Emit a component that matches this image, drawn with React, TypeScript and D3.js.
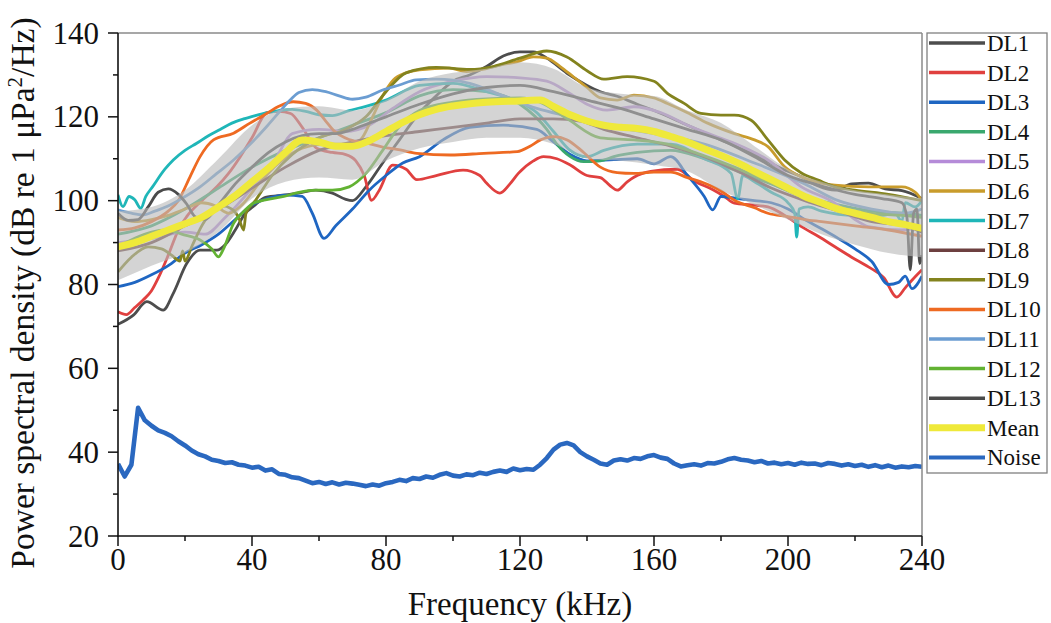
import React from "react";
import * as d3 from "d3";

type P = [number, number];

// ---------- data (frequency kHz, PSD dB) ----------
const DL1: P[] = [[0,70.5],[4.6,72.7],[8.6,75.9],[13.5,73.9],[16.5,77.9],[20.5,85],[24.5,88.2],[29.5,88.2],[32,89.5],[35,93],[38,97],[40.4,98.6],[44,100.8],[50,101.4],[55,102],[59,102.5],[64,101.8],[68,100.3],[70,100],[74,103.3],[79,109],[84,114.5],[89,120],[95,125],[100,128.5],[105,130],[110,132],[115,134.5],[120,135.5],[124,135.5],[128,134],[134,130.4],[140,127.5],[144,126],[149,124.9],[155,123],[160,121.5],[170,118],[180,114.5],[190,111],[199,107.3],[204,105.7],[209,103.5],[214,102.5],[219,104],[224,104.2],[229,102.8],[234,102.4],[240,100.5]];
const DL2: P[] = [[0,73.5],[2.5,72.8],[5,74.5],[7.5,76.3],[10,78.5],[12,81.5],[15,87],[18,93],[20.5,96.2],[25,100],[29.5,103.3],[33,106.5],[36.5,110.5],[40,115],[44.5,121],[48,121.3],[51.5,120.8],[55,117.5],[59.3,112.5],[64,111.5],[68,111],[71,109.5],[73.5,106],[75.7,100.1],[78,102.5],[82,108.5],[86,107.5],[89.2,105],[95,106],[103,107.3],[108,106],[110,104.2],[114,101.8],[117,104],[119.5,106.5],[124,109.5],[127,110.5],[131,110],[135,108.5],[140,106],[144,105.5],[147,103.5],[149,102.5],[152,104.5],[154,105.6],[159,107],[167,107.5],[172,104.7],[177.6,102.6],[181,101],[184,99.4],[189,99],[194,98.5],[199,96.5],[204,93.8],[209,91.5],[214,89],[219,86.5],[224,84.2],[228.6,81.6],[232.5,77],[235,79.2],[237,81],[240,83.5]];
const DL3: P[] = [[0,79.5],[5,80.5],[10,82.3],[15,84.5],[20,87.5],[25,89.5],[30,92],[35,95.5],[40,99],[45,100.6],[50,101.3],[55,101],[58,97],[61.5,91],[65,94],[70,98],[75,102.5],[80,106],[85,109],[90,110.5],[97,114.5],[105,117.5],[115,118],[125,117],[130,114],[135,111],[140,109.5],[148,109.8],[155,110],[160,108.8],[165,110.5],[170,106],[175,101],[177.5,97.8],[180,101],[185,100.5],[190,100],[195,99.5],[200,98],[205,95.5],[210,93.3],[215,91],[220,88.5],[225,85.5],[230,80],[233,80.5],[235,82],[237,79],[240,82]];
const DL4: P[] = [[0,92],[10,94],[20,98],[30,103],[40,108],[50,112],[60,115],[70,118],[80,121],[90,125],[100,126.5],[110,126],[120,123],[128,117],[131,113.5],[135,110.5],[139,109.3],[144,109.5],[148,110.5],[155,111.5],[165,112],[175,110],[185,107],[195,104],[205,101],[215,99],[225,97.5],[235,97],[240,96.5]];
const DL5: P[] = [[0,90],[10,91],[20,92.5],[26,92],[32,96],[40,103],[47,110],[52,116],[60,117],[68,116.5],[75,118],[82,122],[90,126],[100,128.5],[110,129.6],[120,129.3],[128,128.5],[135,125.5],[140,123],[146,121.6],[154,122.4],[162,121],[170,118],[178,115.5],[184,113.7],[194,109.7],[204,103.3],[214,99.4],[220,95.5],[224,93.8],[234,93],[240,93.8]];
const DL6: P[] = [[0,96],[5,95],[10,95.5],[15,96.5],[20,98],[25,99.5],[29,98.8],[33,97],[37,99],[42,104],[48,109],[55,112.5],[62,113.5],[68,113.5],[72.3,114.5],[76,120],[79,125],[82.2,128.8],[86,130.5],[90,131.2],[99,131.6],[104,130.8],[110,131.5],[115,132.5],[119,133.1],[124,134.3],[128,134],[132,132],[136,129.5],[140,127],[144,124.5],[149,124],[154,125.2],[160,124.5],[164,123.2],[170,121],[176,118.5],[184,116],[190,114.5],[194,112.9],[199,108.1],[204,105.7],[210,104.2],[214,103.7],[224,103.3],[234,103.3],[238,102],[240,100]];
const DL7: P[] = [[0,101.4],[1.5,98.6],[3.3,101],[5,100.2],[6.8,98.2],[8.3,101],[10.3,103.3],[14,107.5],[16.5,109.7],[20,112],[23.5,113.7],[27,115.5],[30.5,117],[34,118.5],[37.5,119.5],[41,120.3],[44.5,121],[48,121.5],[52,121.8],[56,121.3],[60,120.5],[64,120.3],[69,121.5],[74,122.5],[80,124],[90,127.5],[100,128],[110,126],[120,123.5],[125,121],[130,116.5],[135,112],[140,110.5],[145,112],[155,113.5],[165,113.5],[175,110],[183,106.5],[185,100.5],[186.5,106],[190,104.5],[195,102],[200,99.5],[202,97],[202.6,91.3],[203.3,98],[206,98.5],[210,97.5],[220,96.5],[228,96.5],[232,97],[234,95],[235,99.5],[238,98.5],[240,100]];
const DL8: P[] = [[0,88],[10,90],[20,94],[30,98],[40,103],[50,108],[60,112],[70,114],[80,115.5],[90,116.5],[100,117.5],[110,118.5],[120,119.5],[130,119.5],[138,119],[145,117],[155,115],[165,113],[175,110.5],[185,107],[195,103],[205,100],[215,97.5],[225,95],[235,94],[240,92.5]];
const DL9: P[] = [[0,83],[4,86.5],[9,89],[13,88.5],[16,87],[18.5,85.6],[19.3,88],[20,85.6],[22,89],[25,94],[28,97.5],[31,98.8],[34,98],[36,96],[37.5,93],[38.2,97],[41,100],[46,106],[52,111],[60,115],[68,117],[74,120],[80,126],[86,130.5],[95,131.8],[105,131.3],[112,132],[120,134],[128,135.7],[134,134.3],[140,131],[145,129],[152,129.6],[160,128.5],[164,125.6],[169,123.2],[174,120.8],[180,120.4],[184,120.4],[189,119.2],[194,114.5],[199,109.7],[204,106.6],[209,104.9],[214,103.3],[220,102.5],[230,101.5],[240,100]];
const DL10: P[] = [[0,93],[5,93.5],[10,95],[15,97.5],[18,100],[21.5,105.7],[24.5,110.5],[28.5,114.5],[34.5,116.1],[39.4,118.5],[44.4,120.8],[48,122.5],[52.3,123.6],[56,123.2],[59.3,121.6],[62,119],[64.3,116.8],[69.3,114.5],[74.3,113.7],[79,112.8],[84.2,112.1],[89.2,111.3],[99.2,110.9],[109.2,111.3],[119.2,111.7],[123,113],[126.1,114.5],[130.1,115.3],[134.1,114.5],[139,111.5],[144,108],[149,106.7],[154,106.5],[160,106.8],[165,106.8],[170,105.5],[174,104.5],[180,102.3],[184,100.1],[190,98.3],[194,97],[200,96.2],[205,95.5],[210,95],[220,94],[230,93],[240,91.5]];
const DL11: P[] = [[0,97.8],[4,97],[7.6,96.6],[11,97.5],[14.6,98.6],[19,100.5],[24.5,103.3],[29.5,106.5],[34.5,109.7],[39.5,113.5],[44.4,117.7],[48,121],[51.4,124],[54,125.8],[58,126.5],[62,126],[66,125],[70,124.2],[74,124.7],[79,126.4],[84,127.6],[89,128.8],[95,129],[105,128],[115,125],[125,122],[135,120],[145,118],[160,116],[175,113.5],[190,109],[205,104],[215,100],[225,98],[235,97],[240,98]];
const DL12: P[] = [[0,89],[5,91],[10,92.5],[14.6,93],[19,92],[24.5,90.6],[28,88.5],[30,86.6],[31.5,88.5],[34.5,94.6],[37,97],[40.4,99.4],[44,100.2],[49.5,101],[54,102],[59.3,102.5],[64,102.5],[69,103.3],[74,106.5],[79,112],[84,117.7],[90,121.5],[100,123.5],[110,124.3],[120,124.5],[126,123.5],[134,119.6],[144,115],[154,114.5],[164,113.5],[174,111],[184,108],[194,104.5],[204,101],[214,98.5],[224,97],[234,96.5],[240,96]];
const DL13: P[] = [[0,97],[3,95.3],[6,95.5],[9,98.5],[12,102],[15,102.8],[18,101.5],[20.5,99.2],[23,96.2],[26,95.5],[30,99],[35,104],[40,108],[45,111.5],[50,114],[55,115.5],[60,116],[65,116],[70,117],[75,118.5],[80,120],[90,123],[100,125.5],[110,127],[120,127.5],[130,126],[140,124],[150,122],[160,119.5],[170,117],[180,114.5],[190,110.5],[200,106],[210,103.5],[220,101.5],[228,100.5],[234,99.5],[235.5,96],[236.5,83.5],[237.5,97],[238.5,98],[239.3,85],[240,87]];

const MEAN: P[] = [[0,89],[5,90],[10,91.5],[15,93],[20,94.5],[25,96],[30,98.5],[35,101.2],[40,104.5],[45,107.8],[50,111.5],[55,114.5],[60,114],[65,113],[70,113],[75,114.3],[80,116.5],[85,118.7],[90,120.5],[95,121.8],[100,122.6],[110,123.5],[120,123.8],[126,124],[130,122.5],[135,120.5],[140,119],[145,118],[150,117.5],[155,117.2],[160,116.5],[165,115.3],[170,114],[175,112.4],[180,110.8],[185,109],[190,107],[195,105],[200,103],[205,101],[210,99.5],[215,98],[220,97],[225,96],[230,95],[235,94.3],[240,93.4]];

const BAND_F = [0,10,20,30,40,50,60,70,80,90,100,110,120,130,140,150,160,170,180,190,200,210,220,230,240];
const BAND_LO = [81,84.5,87.5,92.5,100.5,104.5,105.5,105,109.5,112.5,114,115,115,113.5,110,109.5,108.5,107,102.5,99,95.5,92,89.5,87.5,86.5];
const BAND_HI = [97.5,98.5,102.5,110,118,122,122.5,121.5,124,128.5,130.5,131.5,133,131.5,127,125.5,125,121.5,118.5,113,107.5,104.5,102.5,101.5,100.5];

const NOISE = [37.2,34.2,37,50.6,47.6,46.3,45.2,44.6,43.8,42.6,41.6,40.4,39.5,39.0,38.2,37.9,37.4,37.6,37.0,36.8,36.3,36.5,35.6,35.9,34.8,34.6,34.0,33.8,33.2,32.6,32.9,32.4,32.8,32.3,32.7,32.5,32.2,31.9,32.3,32.0,32.6,32.9,33.4,33.1,33.8,33.6,34.2,33.9,34.6,35.0,34.4,34.2,34.7,34.5,35.1,34.8,35.3,35.6,35.3,36.1,35.7,36.0,35.8,37.0,38.6,40.6,41.8,42.2,41.6,40.0,39.0,38.2,37.3,37.0,38.0,38.3,38.0,38.6,38.4,39.0,39.3,38.7,38.4,37.3,36.6,36.9,37.1,36.8,37.4,37.3,37.7,38.3,38.6,38.2,38.0,37.6,37.9,37.3,37.5,37.1,37.4,37.0,37.5,37.2,37.3,36.9,37.4,37.2,36.8,37.1,36.7,37.0,36.5,36.9,36.4,36.8,36.3,36.6,36.4,36.7,36.5];
const NOISE_STEP = 2;

const SERIES_NAMES = ["DL1","DL2","DL3","DL4","DL5","DL6","DL7","DL8","DL9","DL10","DL11","DL12","DL13"];
const SERIES_DATA = [DL1,DL2,DL3,DL4,DL5,DL6,DL7,DL8,DL9,DL10,DL11,DL12,DL13];
const SERIES_COLORS = ["#4d4d4d","#e0403f","#1f66c2","#3aa86e","#b58bd8","#c99c2c","#1fb6b8","#6d4040","#83831e","#ee6a22","#6b9dd2","#62b232","#4a4a4a"];
const MEAN_COLOR = "#efe93a";
const NOISE_COLOR = "#2a68c0";

const X_TICKS = [0,40,80,120,160,200,240];
const X_MINOR = [20,60,100,140,180,220];
const Y_TICKS = [20,40,60,80,100,120,140];
const Y_MINOR = [30,50,70,90,110,130];

// ---------- layout ----------
const W = 1051, H = 623;
const L = 118, R = 922, T = 33, B = 536;
const FONT = "'Liberation Serif', 'Times New Roman', serif";

export default function App() {
  const x = d3.scaleLinear().domain([0, 240]).range([L, R]);
  const y = d3.scaleLinear().domain([20, 140]).range([B, T]);

  const line = d3.line<P>().x(d => x(d[0])).y(d => y(d[1])).curve(d3.curveMonotoneX);
  const band = d3.area<number>()
    .x((_, i) => x(BAND_F[i]))
    .y0((_, i) => y(BAND_LO[i]))
    .y1((_, i) => y(BAND_HI[i]))
    .curve(d3.curveMonotoneX);
  const noiseLine = d3.line<number>().x((_, i) => x(i * NOISE_STEP)).y(d => y(d)).curve(d3.curveLinear);

  const legendItems = [
    ...SERIES_NAMES.map((n, i) => ({ name: n, color: SERIES_COLORS[i], w: 3.5 })),
    { name: "Mean", color: MEAN_COLOR, w: 7 },
    { name: "Noise", color: NOISE_COLOR, w: 4 },
  ];

  return (
    <svg width={W} height={H} style={{ position: "absolute", left: 0, top: 0, background: "#fff" }} fontFamily={FONT}>
      <defs>
        <clipPath id="plotclip">
          <rect x={L} y={T} width={R - L} height={B - T} />
        </clipPath>
      </defs>
      <rect x={0} y={0} width={W} height={H} fill="#fff" />

      <g clipPath="url(#plotclip)">
        {SERIES_DATA.map((d, i) => (
          <path key={SERIES_NAMES[i]} d={line(d) || ""} fill="none" stroke={SERIES_COLORS[i]} strokeWidth={2.8} strokeLinejoin="round" />
        ))}
        <path d={band(BAND_LO) || ""} fill="#b9b9b9" fillOpacity={0.62} stroke="none" />
        <path d={line(MEAN) || ""} fill="none" stroke={MEAN_COLOR} strokeWidth={7} strokeLinejoin="round" strokeLinecap="round" />
        <path d={noiseLine(NOISE) || ""} fill="none" stroke={NOISE_COLOR} strokeWidth={4.6} strokeLinejoin="round" />
      </g>

      {/* frame */}
      <line x1={L} x2={R} y1={T} y2={T} stroke="#8a8a8a" strokeWidth={1.5} />
      <line x1={R} x2={R} y1={T} y2={B} stroke="#8a8a8a" strokeWidth={1.5} />
      <line x1={L} x2={L} y1={T} y2={B + 0.75} stroke="#111" strokeWidth={1.6} />
      <line x1={L - 0.75} x2={R} y1={B} y2={B} stroke="#111" strokeWidth={1.6} />

      {/* y ticks */}
      {Y_TICKS.map(v => (
        <g key={"y" + v}>
          <line x1={L - 10} x2={L} y1={y(v)} y2={y(v)} stroke="#111" strokeWidth={1.5} />
          <text x={L - 19} y={y(v) + 10.5} textAnchor="end" fontSize={31} fill="#111">{v}</text>
        </g>
      ))}
      {Y_MINOR.map(v => (
        <line key={"ym" + v} x1={L - 5} x2={L} y1={y(v)} y2={y(v)} stroke="#111" strokeWidth={1.5} />
      ))}

      {/* x ticks */}
      {X_TICKS.map(v => (
        <g key={"x" + v}>
          <line x1={x(v)} x2={x(v)} y1={B} y2={B + 10} stroke="#111" strokeWidth={1.5} />
          <text x={x(v)} y={570} textAnchor="middle" fontSize={31} fill="#111">{v}</text>
        </g>
      ))}
      {X_MINOR.map(v => (
        <line key={"xm" + v} x1={x(v)} x2={x(v)} y1={B} y2={B + 5} stroke="#111" strokeWidth={1.5} />
      ))}

      {/* axis titles */}
      <text x={(L + R) / 2} y={615} textAnchor="middle" fontSize={33} fill="#111">Frequency (kHz)</text>
      <text transform={`translate(34,293) rotate(-90)`} textAnchor="middle" fontSize={33.5} fill="#111">
        Power spectral density (dB re 1 μPa<tspan dy={-12} fontSize={21}>2</tspan><tspan dy={12}>/Hz)</tspan>
      </text>

      {/* legend */}
      <rect x={927} y={33} width={120} height={440} fill="#fff" stroke="#808080" strokeWidth={1.3} />
      {legendItems.map((it, i) => {
        const ly = 43 + i * 29.6;
        return (
          <g key={it.name}>
            <line x1={929} x2={985} y1={ly} y2={ly} stroke={it.color} strokeWidth={it.w} />
            <text x={987} y={ly + 8} fontSize={23} fill="#111" fontFamily={FONT}>{it.name}</text>
          </g>
        );
      })}
    </svg>
  );
}
